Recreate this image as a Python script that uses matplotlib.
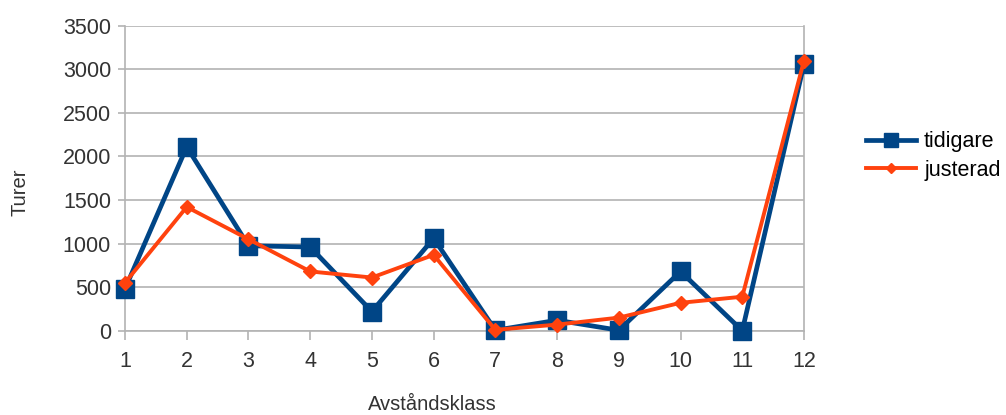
import numpy as np
import matplotlib.pyplot as plt

plt.rcParams["font.family"] = ["Liberation Sans", "DejaVu Sans"]

klass = list(range(1, 13))
tidigare = [480, 2110, 975, 960, 220, 1060, 5, 120, 5, 680, 0, 3060]
justerad = [550, 1420, 1050, 680, 610, 870, 10, 70, 150, 320, 390, 3100]

blue = "#004586"
orange = "#ff420e"
grid = "#b3b3b3"
text = "#333333"

fig = plt.figure(figsize=(10.06, 4.15), dpi=100)
ax = fig.add_axes([125 / 1006, 1 - 330.7 / 415, (804 - 125) / 1006, 305 / 415])

ax.plot(klass, tidigare, color=blue, linewidth=3.4, marker="s", markersize=13,
        label="tidigare", clip_on=False, zorder=3)
ax.plot(klass, justerad, color=orange, linewidth=2.8, marker="D", markersize=7,
        label="justerad", clip_on=False, zorder=4)

ax.set_xlim(1, 12)
ax.set_ylim(0, 3500)
ax.set_xticks(klass)
ax.set_yticks(np.arange(0, 3501, 500))
ax.yaxis.grid(True, color=grid, linewidth=1.2)
ax.set_axisbelow(True)

for side in ["left", "bottom", "right"]:
    ax.spines[side].set_color(grid)
    ax.spines[side].set_linewidth(1.2)
ax.spines["top"].set_visible(False)

ax.tick_params(axis="x", colors=grid, length=6.5, width=1.2, pad=8,
               labelsize=15.5, labelcolor=text)
ax.tick_params(axis="y", colors=grid, length=5, width=1.2, pad=5,
               labelsize=15.5, labelcolor=text)

fig.text(20 / 1006, 1 - 192 / 415, "Turer", rotation=90, fontsize=14.5,
         color=text, ha="center", va="center")
fig.text(432 / 1006, 1 - 404 / 415, "Avståndsklass", fontsize=14.5,
         color=text, ha="center", va="center")

ax.legend(loc="center left", bbox_to_anchor=(866 / 1006, 1 - 156 / 415),
          bbox_transform=fig.transFigure, frameon=False, fontsize=15.5,
          handlelength=2.3, handletextpad=0.4, labelspacing=0.35,
          markerscale=0.75, borderpad=0, borderaxespad=0)

fig.savefig("out.png", dpi=100)
